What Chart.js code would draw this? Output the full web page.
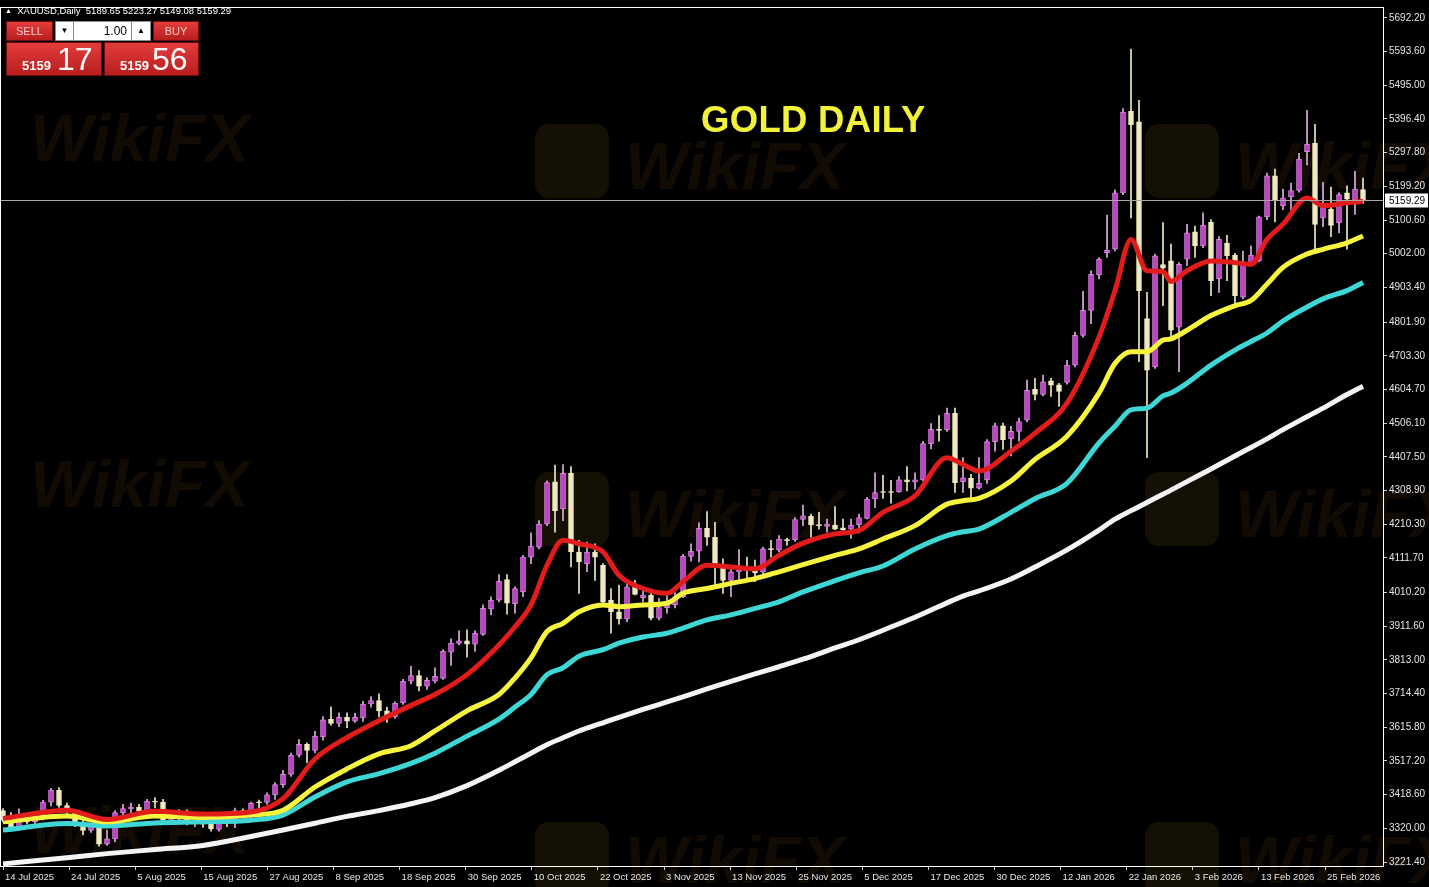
<!DOCTYPE html>
<html>
<head>
<meta charset="utf-8">
<script src="https://cdn.jsdelivr.net/npm/chart.js@4.4.1/dist/chart.umd.min.js"></script>
<style>
html,body{margin:0;padding:0;background:#000;overflow:hidden;}
#wrap{position:relative;width:1429px;height:887px;background:#000;}
#c{position:absolute;left:0;top:0;}
.wm{position:absolute;font:bold italic 66px "Liberation Sans",sans-serif;color:rgba(72,46,14,0.24);white-space:nowrap;}
.logo{position:absolute;width:74px;height:74px;border-radius:14px;background:rgba(72,56,10,0.28);}
#hdr{position:absolute;left:5px;top:5px;color:#fff;font:9.5px "Liberation Sans",sans-serif;white-space:pre;}
.red{position:absolute;background:linear-gradient(#e43c3c,#b81d1d);border:1px solid #6e0d0d;box-sizing:border-box;color:#fff;font-family:"Liberation Sans",sans-serif;}
.wbox{position:absolute;background:#fff;border:1px solid #8c8c8c;box-sizing:border-box;color:#000;font:12px "Liberation Sans",sans-serif;}
#title{position:absolute;left:701px;top:99px;color:#f2f23a;font:bold 36.5px "Liberation Sans",sans-serif;letter-spacing:0.3px;}
</style>
</head>
<body>
<div id="wrap">
  <div class="logo" style="left:535px;top:124px"></div>
  <div class="logo" style="left:1145px;top:124px"></div>
  <div class="logo" style="left:535px;top:472px"></div>
  <div class="logo" style="left:1145px;top:472px"></div>
  <div class="logo" style="left:535px;top:822px"></div>
  <div class="logo" style="left:1145px;top:822px"></div>
  <div class="wm" style="left:30px;top:100px">WikiFX</div>
  <div class="wm" style="left:625px;top:128px">WikiFX</div>
  <div class="wm" style="left:1235px;top:128px">WikiFX</div>
  <div class="wm" style="left:30px;top:446px">WikiFX</div>
  <div class="wm" style="left:625px;top:476px">WikiFX</div>
  <div class="wm" style="left:1235px;top:476px">WikiFX</div>
  <div class="wm" style="left:30px;top:792px">WikiFX</div>
  <div class="wm" style="left:625px;top:822px">WikiFX</div>
  <div class="wm" style="left:1235px;top:822px">WikiFX</div>
  <canvas id="c" width="1429" height="887"></canvas>
  <div id="hdr"></div>
  <div class="red" style="left:6px;top:21px;width:47px;height:20px;color:#f7c6c6;font-size:11px;text-align:center;line-height:18px">SELL</div>
  <div class="wbox" style="left:55px;top:21px;width:19px;height:20px;text-align:center;font-size:8px;line-height:18px">&#9660;</div>
  <div class="wbox" style="left:73px;top:21px;width:59px;height:20px;text-align:right;padding-right:4px;line-height:18px">1.00</div>
  <div class="wbox" style="left:131px;top:21px;width:20px;height:20px;text-align:center;font-size:8px;line-height:18px">&#9650;</div>
  <div class="red" style="left:153px;top:21px;width:46px;height:20px;color:#f7c6c6;font-size:11px;text-align:center;line-height:18px">BUY</div>
  <div class="red" style="left:6px;top:42px;width:96px;height:34px">
    <span style="position:absolute;left:15px;top:15px;font-size:13px;font-weight:bold">5159</span>
    <span style="position:absolute;left:50px;top:-2px;font-size:32px">17</span>
  </div>
  <div class="red" style="left:104px;top:42px;width:95px;height:34px">
    <span style="position:absolute;left:15px;top:15px;font-size:13px;font-weight:bold">5159</span>
    <span style="position:absolute;left:47px;top:-2px;font-size:32px">56</span>
  </div>
  <div id="title">GOLD DAILY</div>
</div>
<script>
// daily bars, 14 Jul 2025 onwards
const opens = [3372,3343,3324,3347,3339,3350,3397,3431,3387,3368,3337,3314,3326,3274,3289,3365,3377,3382,3370,3400,
3397,3345,3348,3356,3335,3340,3332,3317,3347,3339,3372,3366,3398,3396,3418,3448,3478,3534,3566,3548,
3588,3639,3627,3645,3634,3643,3684,3694,3664,3646,3687,3751,3767,3736,3751,3759,3836,3861,3869,3859,
3888,3962,3988,4048,3978,4012,4114,4143,4211,4334,4255,4359,4129,4095,4129,4090,3988,3954,3933,4027,
3995,4003,3935,3966,3975,3998,4116,4131,4198,4172,4085,4046,4071,4076,4076,4070,4138,4134,4163,4165,
4224,4233,4208,4204,4208,4200,4196,4208,4227,4284,4306,4305,4305,4340,4334,4340,4446,4488,4486,4535,
4335,4345,4316,4340,4452,4498,4460,4482,4515,4605,4590,4630,4618,4625,4676,4763,4836,4940,5005,5015,
5180,5419,5388,4812,4671,4970,4981,4787,4986,5066,5025,5095,4928,5033,4998,4875,4976,4981,5110,5230,
5143,5168,5187,5301,5325,5107,5133,5093,5180,5160,5189.65];
const highs = [3378,3366,3377,3356,3361,3402,3437,3439,3394,3375,3344,3334,3333,3315,3372,3390,3394,3390,3405,3410,
3405,3358,3375,3374,3346,3362,3340,3350,3352,3379,3377,3397,3403,3424,3454,3490,3540,3580,3570,3604,
3647,3676,3658,3658,3657,3692,3706,3714,3675,3690,3756,3794,3782,3761,3790,3843,3875,3898,3901,3898,
3974,3998,4063,4063,4027,4119,4185,4221,4337,4383,4385,4379,4163,4158,4153,4095,4022,4032,4049,4046,
4022,4008,3993,4010,4010,4122,4153,4214,4247,4216,4109,4085,4136,4114,4105,4143,4163,4177,4170,4230,
4266,4240,4245,4225,4262,4225,4225,4240,4289,4361,4353,4339,4350,4379,4361,4453,4505,4528,4550,4550,
4405,4356,4405,4458,4506,4506,4497,4521,4632,4637,4647,4637,4623,4690,4773,4892,4952,4991,5115,5189,
5427,5601,5451,4889,5001,5093,5030,4976,5088,5083,5122,5102,5052,5056,5003,5010,5025,5112,5238,5250,
5191,5209,5296,5422,5381,5211,5197,5180,5201,5243,5223.27];
const lows = [3338,3320,3320,3333,3333,3345,3385,3381,3358,3325,3301,3308,3268,3270,3281,3352,3359,3360,3366,3380,
3340,3331,3344,3330,3325,3323,3312,3312,3325,3322,3350,3352,3374,3390,3405,3440,3472,3528,3512,3541,
3578,3622,3618,3615,3630,3633,3675,3646,3630,3642,3683,3743,3722,3727,3746,3756,3797,3857,3821,3838,
3885,3945,3983,3947,3950,3998,4095,4138,4206,4187,4221,4085,4008,4071,4046,3974,3891,3918,3925,4003,
3983,3930,3930,3950,3965,3995,4102,4100,4148,4034,4008,3998,4046,4042,4042,4065,4114,4129,4148,4160,
4206,4172,4196,4187,4194,4192,4169,4185,4226,4259,4286,4272,4303,4308,4313,4337,4431,4453,4482,4303,
4303,4289,4313,4330,4424,4429,4410,4453,4510,4574,4586,4584,4555,4620,4671,4758,4797,4928,4991,5010,
5175,5107,4686,4405,4666,4850,4758,4657,4967,4991,5020,4879,4889,4923,4858,4870,4971,4978,5102,5095,
5131,5131,5182,5262,5010,5081,5052,5063,5015,5117,5149.08];
const closes = [3343,3324,3347,3339,3350,3397,3431,3387,3368,3337,3314,3326,3274,3289,3366,3378,3382,3370,3400,3397,
3345,3348,3356,3335,3336,3332,3318,3347,3339,3372,3366,3394,3395,3418,3448,3478,3534,3566,3548,3590,
3638,3627,3645,3634,3645,3684,3694,3664,3646,3687,3750,3767,3736,3753,3765,3838,3862,3869,3859,3891,
3964,3988,4043,3979,4022,4114,4146,4211,4332,4250,4359,4129,4100,4129,4114,3983,3954,3933,4027,4005,
4003,3935,3966,3975,3998,4117,4131,4198,4172,4085,4046,4071,4075,4074,4068,4138,4136,4167,4162,4224,
4235,4208,4206,4211,4196,4194,4208,4230,4284,4303,4303,4303,4340,4334,4340,4446,4488,4485,4535,4332,
4346,4316,4330,4452,4498,4458,4482,4511,4602,4590,4627,4617,4599,4676,4763,4836,4942,4986,5012,5180,
5417,5380,4894,4661,4996,4960,4778,4971,5063,5025,5085,4923,5044,4996,4879,4978,4998,5110,5230,5160,
5165,5187,5279,5323,5088,5143,5085,5175,5162,5191,5159.29];

// moving averages at these bar numbers
const maIdx = [0,8,13,19,25,31,35,39,43,47,51,54,58,62,64,66,68,70,72,75,77,80,83,85,88,91,94,97,100,104,107,110,114,118,120,122,126,129,133,137,139,141,143,145,146,148,151,154,156,158,160,163,165,168,170];
const maRed = [3349,3373,3346,3370,3362,3368,3407,3523,3586,3635,3680,3712,3770,3857,3910,3974,4090,4163,4153,4129,4061,4022,4008,4042,4090,4085,4080,4119,4155,4182,4192,4245,4293,4405,4385,4366,4424,4477,4565,4758,4894,5044,4952,4950,4921,4952,4981,4976,4971,5044,5088,5165,5143,5151,5156];
const maYellow = [3339,3356,3339,3356,3352,3359,3373,3441,3494,3538,3562,3605,3664,3712,3760,3819,3896,3920,3954,3974,3969,3974,3979,4008,4022,4037,4051,4071,4092,4119,4138,4167,4206,4269,4279,4286,4337,4400,4468,4594,4681,4715,4715,4749,4753,4778,4821,4850,4865,4913,4962,5001,5015,5034,5054];
const maCyan = [3315,3334,3327,3336,3339,3344,3359,3412,3456,3480,3510,3540,3590,3640,3675,3712,3770,3790,3824,3843,3862,3880,3891,3906,3930,3945,3964,3983,4012,4045,4068,4088,4138,4177,4188,4196,4245,4285,4330,4448,4497,4545,4550,4586,4594,4623,4676,4720,4745,4770,4805,4846,4870,4894,4918];
const maWhite = [3216,3234,3246,3258,3270,3296,3315,3335,3355,3372,3392,3410,3445,3490,3515,3540,3565,3585,3605,3629,3645,3668,3690,3705,3728,3750,3772,3793,3815,3848,3872,3900,3938,3980,4000,4015,4050,4085,4135,4193,4225,4250,4274,4298,4310,4335,4372,4410,4435,4460,4487,4525,4550,4590,4614];

const xTickLabels = ['14 Jul 2025','24 Jul 2025','5 Aug 2025','15 Aug 2025','27 Aug 2025','8 Sep 2025','18 Sep 2025','30 Sep 2025','10 Oct 2025','22 Oct 2025','3 Nov 2025','13 Nov 2025','25 Nov 2025','5 Dec 2025','17 Dec 2025','30 Dec 2025','12 Jan 2026','22 Jan 2026','3 Feb 2026','13 Feb 2026','25 Feb 2026'];
const yTickLabels = [5692.20,5593.60,5495.00,5396.40,5297.80,5199.20,5100.60,5002.00,4903.40,4801.90,4703.30,4604.70,4506.10,4407.50,4308.90,4210.30,4111.70,4010.20,3911.60,3813.00,3714.40,3615.80,3517.20,3418.60,3320.00,3221.40];
const xTickStep = 8.2625; // date marks sit a little wider apart than 8 bars in the source picture

const last = closes.length - 1;
document.getElementById('hdr').innerHTML = '<span style="font-size:7px;vertical-align:1px">&#9650;</span>  XAUUSD,Daily  ' +
  [opens[last], highs[last], lows[last], closes[last]].map(v => v.toFixed(2)).join(' ');

const isUp = i => closes[i] >= opens[i];
const bodies = opens.map((o, i) => ({x: i, y: [Math.min(o, closes[i]), Math.max(o, closes[i])]}));
const wicks = highs.map((h, i) => ({x: i, y: [lows[i], h]}));
const line = arr => maIdx.map((x, k) => ({x: x, y: arr[k]}));

const frame = {
  id: 'frame',
  afterDraw(chart) {
    const {ctx, chartArea: a, scales: {y}} = chart;
    ctx.save();
    const py = Math.round(y.getPixelForValue(closes[last])) + 0.5;
    ctx.strokeStyle = '#a8a8a8';
    ctx.lineWidth = 1;
    ctx.beginPath(); ctx.moveTo(a.left, py); ctx.lineTo(a.right, py); ctx.stroke();
    ctx.strokeStyle = '#ffffff';
    ctx.strokeRect(a.left - 0.5, a.top - 0.5, a.right - a.left + 1, a.bottom - a.top + 1);
    ctx.fillStyle = '#ffffff';
    ctx.fillRect(a.right + 2, py - 7, 43, 14);
    ctx.fillStyle = '#000000';
    ctx.font = '10px "Liberation Sans"';
    ctx.textBaseline = 'middle';
    ctx.fillText(closes[last].toFixed(2), a.right + 6, py + 1);
    ctx.restore();
  }
};

Chart.defaults.font.family = '"Liberation Sans", sans-serif';
Chart.defaults.font.size = 10;

new Chart(document.getElementById('c'), {
  type: 'bar',
  data: {
    datasets: [
      {type: 'line', data: line(maRed), borderColor: '#e21b1b', borderWidth: 5, pointRadius: 0, cubicInterpolationMode: 'monotone', order: 1},
      {type: 'line', data: line(maYellow), borderColor: '#f6f43e', borderWidth: 5, pointRadius: 0, cubicInterpolationMode: 'monotone', order: 2},
      {type: 'line', data: line(maCyan), borderColor: '#3fd6d6', borderWidth: 5, pointRadius: 0, cubicInterpolationMode: 'monotone', order: 3},
      {type: 'line', data: line(maWhite), borderColor: '#f4f4f4', borderWidth: 5, pointRadius: 0, cubicInterpolationMode: 'monotone', order: 4},
      {data: bodies, grouped: false, barThickness: 5, minBarLength: 1, borderWidth: 1, borderSkipped: false,
        backgroundColor: c => isUp(c.dataIndex) ? '#c23fc8' : '#f2ebc0',
        borderColor: c => isUp(c.dataIndex) ? '#df8ae6' : '#f2ebc0', order: 5},
      {data: wicks, grouped: false, barThickness: 1,
        backgroundColor: c => isUp(c.dataIndex) ? '#dcaee0' : '#efe8bd', order: 6}
    ]
  },
  options: {
    responsive: false,
    animation: false,
    devicePixelRatio: 1,
    layout: {padding: {left: 1, top: 2, right: 0, bottom: 0}},
    plugins: {legend: {display: false}, tooltip: {enabled: false}},
    scales: {
      x: {
        type: 'linear', min: -0.25, max: 172.5, offset: false,
        afterBuildTicks: s => { s.ticks = xTickLabels.map((t, k) => ({value: k * xTickStep})); },
        afterFit: s => { s.height = 21; },
        ticks: {color: '#e6e6e6', font: {size: 9.5}, align: 'start', maxRotation: 0, autoSkip: false, padding: 2, labelOffset: 2,
          callback: (v, i) => xTickLabels[i]},
        grid: {drawOnChartArea: false, offset: false, color: '#d0d0d0', tickLength: 4},
        border: {color: '#ffffff'}
      },
      y: {
        type: 'linear', position: 'right', min: 3209.8, max: 5721.3, beginAtZero: false,
        afterBuildTicks: s => { s.ticks = yTickLabels.map(v => ({value: v})); },
        afterFit: s => { s.width = 46; },
        ticks: {color: '#e6e6e6', padding: 2, autoSkip: false, callback: v => v.toFixed(2)},
        grid: {drawOnChartArea: false, color: '#d0d0d0', tickLength: 4},
        border: {color: '#ffffff'}
      }
    }
  },
  plugins: [frame]
});
</script>
</body>
</html>
